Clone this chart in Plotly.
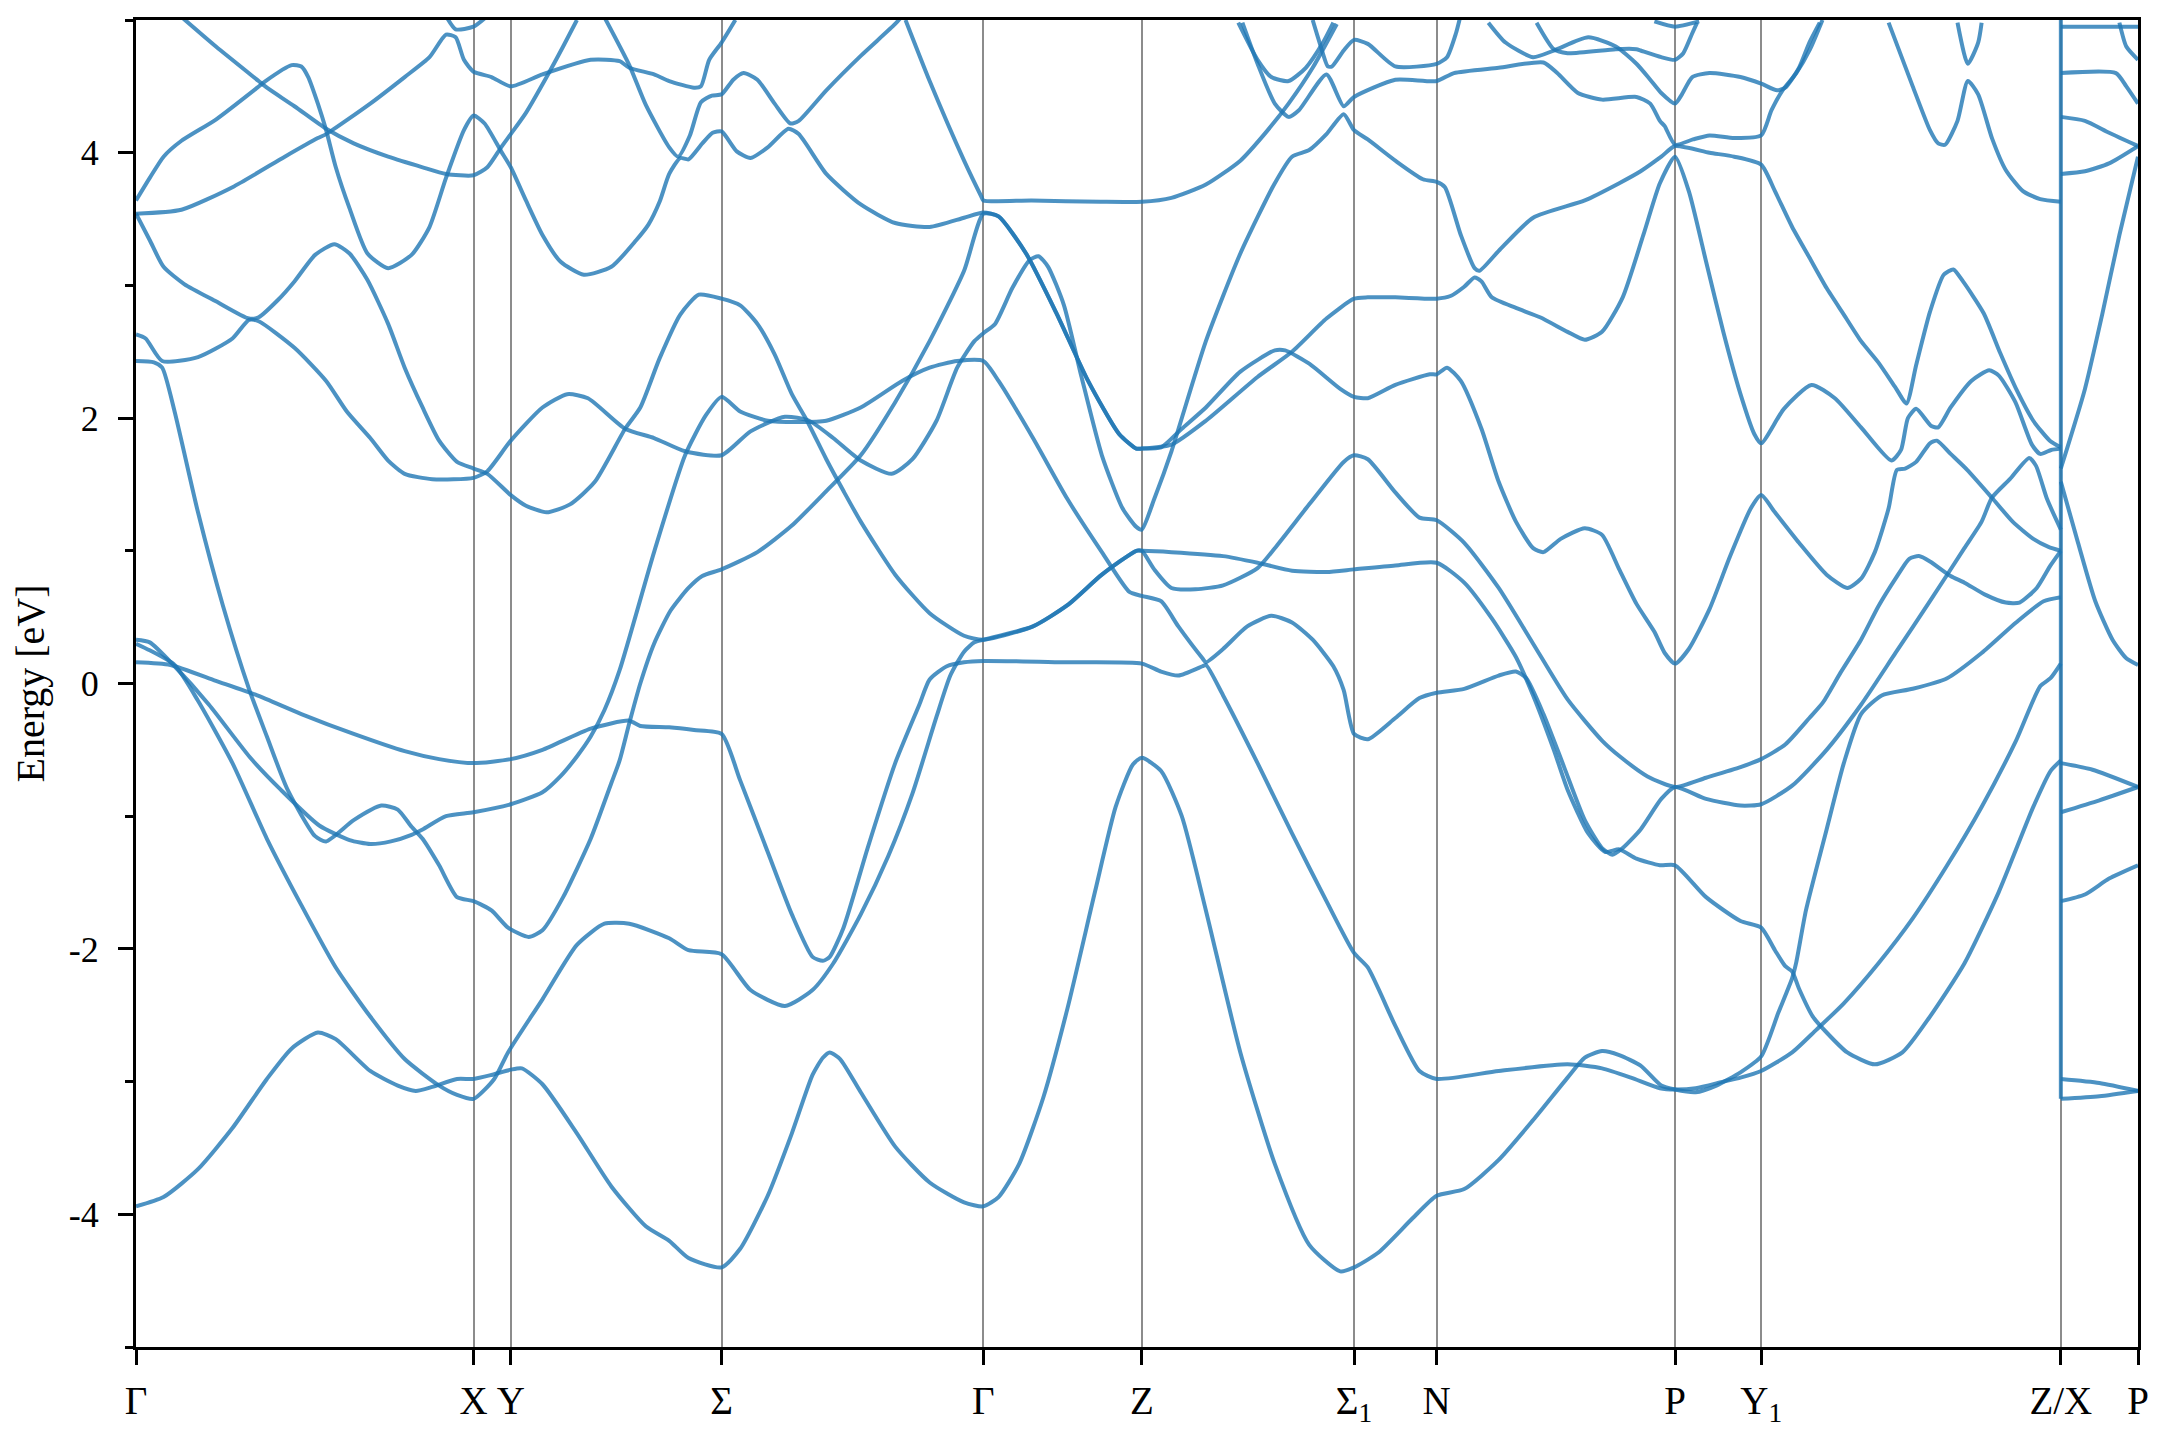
import plotly.graph_objects as go

# ---------------- high-symmetry path ----------------
K_TICKS = [0, 2.45, 2.72, 4.25, 6.15, 7.30, 8.84, 9.44, 11.17, 11.795, 13.97, 14.53]
K_LABELS = ["Γ", "X", "Y", "Σ", "Γ", "Z", "Σ<sub>1</sub>", "N", "P", "Y<sub>1</sub>", "Z/X", "P"]
K_ZX = 13.97
Y_TICKS = [-4, -2, 0, 2, 4]
Y_TICK_TEXT = ["-4", "-2", "0", "2", "4"]
Y_MINOR = [-5, -3, -1, 1, 3, 5]
E_MIN, E_MAX = -5, 5

# ---------------- bands (k, energy in eV) ----------------
A_K = [0, 0.10, 0.20, 0.33, 0.58, 0.88, 0.94, 1.13, 1.20, 1.25,
       1.32, 1.38, 1.45, 1.55, 1.68, 1.83, 2.00, 2.13, 2.25, 2.38,
       2.45, 2.53, 2.65, 2.72, 2.83, 2.95, 3.08, 3.25, 3.45, 3.63,
       3.72, 3.80, 3.87, 3.95, 4.01, 4.11, 4.185, 4.25, 4.36, 4.46,
       4.585, 4.735, 4.81, 5.01, 5.26, 5.51, 5.76, 6.01, 6.15,
       6.26, 6.46, 6.685, 6.91, 7.135, 7.26, 7.30,
       7.44, 7.59, 7.765, 8.015, 8.265, 8.34, 8.515, 8.74, 8.84, 8.94, 9.14, 9.39, 9.44,
       9.515, 9.615, 9.765, 9.89, 10.015, 10.14, 10.215, 10.34, 10.515, 10.64, 10.765, 10.89, 11.02, 11.095, 11.17,
       11.27, 11.42, 11.57, 11.72, 11.795, 11.895, 12.07, 12.27, 12.42, 12.52, 12.62, 12.72, 12.78, 12.84, 12.92, 13.02, 13.07,
       13.17, 13.29, 13.47, 13.62, 13.77, 13.88, 13.97]
A_E = [3.64, 3.81, 3.97, 4.09, 4.25, 4.49, 4.54, 4.66, 4.65, 4.57,
       4.37, 4.17, 3.89, 3.58, 3.24, 3.13, 3.23, 3.44, 3.81, 4.17,
       4.28, 4.22, 4.01, 3.89, 3.64, 3.38, 3.18, 3.08, 3.14, 3.34,
       3.46, 3.63, 3.84, 3.96, 3.95, 4.07, 4.15, 4.16, 4.01, 3.96,
       4.04, 4.18, 4.14, 3.84, 3.61, 3.47, 3.44, 3.51, 3.55,
       3.52, 3.24, 2.78, 2.28, 1.88, 1.77, 1.77,
       1.78, 1.92, 2.08, 2.35, 2.51, 2.51, 2.41, 2.22, 2.16, 2.15, 2.25, 2.33, 2.33,
       2.38, 2.28, 1.92, 1.52, 1.22, 1.02, 0.99, 1.09, 1.17, 1.12, 0.86, 0.60, 0.39, 0.23, 0.15,
       0.26, 0.56, 0.96, 1.32, 1.42, 1.29, 1.06, 0.82, 0.72, 0.79, 0.99, 1.32, 1.61, 1.62, 1.67, 1.81, 1.83,
       1.73, 1.61, 1.40, 1.22, 1.09, 1.03, 1.00]

B_K = [0.30, 0.58, 0.89, 0.95, 1.15, 1.38, 1.58, 1.83, 2.08, 2.25, 2.45, 2.55, 2.65, 2.72, 2.83, 2.98, 3.10, 3.20]
B_E = [5.05, 4.80, 4.54, 4.49, 4.35, 4.18, 4.07, 3.97, 3.89, 3.84, 3.83, 3.89, 4.04, 4.14, 4.30, 4.57, 4.80, 5.0]

C_K = [0, 0.33, 0.70, 1.08, 1.32, 1.38, 1.70, 1.95, 2.13, 2.25, 2.32, 2.38, 2.45, 2.58, 2.72,
       2.95, 3.30, 3.51, 3.58, 3.76, 3.87, 4.05, 4.10, 4.16, 4.25, 4.35]
C_E = [3.54, 3.57, 3.74, 3.97, 4.11, 4.14, 4.37, 4.57, 4.72, 4.89, 4.87, 4.70, 4.61, 4.57, 4.50,
       4.59, 4.70, 4.69, 4.64, 4.59, 4.54, 4.49, 4.50, 4.70, 4.83, 5.0]

D_K = [2.25, 2.32, 2.45, 2.55]
D_E = [5.03, 4.93, 4.95, 5.03]

E5_K = [3.40, 3.58, 3.70, 3.87, 3.935, 4.02, 4.10, 4.18, 4.25, 4.335, 4.41, 4.51, 4.635, 4.75, 4.81, 5.01, 5.26, 5.51, 5.56]
E5_E = [5.02, 4.66, 4.36, 4.04, 3.97, 4.13, 4.38, 4.43, 4.44, 4.55, 4.60, 4.55, 4.37, 4.22, 4.24, 4.47, 4.73, 4.97, 5.03]

F_K = [0, 0.07, 0.19, 0.45, 0.70, 0.82, 0.89, 1.15, 1.38, 1.53,
       1.70, 1.83, 1.95, 2.15, 2.45, 2.55, 2.72, 2.95, 3.13, 3.28,
       3.55, 3.76, 3.985, 4.25, 4.46, 4.71, 4.885, 5.06, 5.26, 5.485,
       5.635, 5.81, 5.96, 6.085, 6.15, 6.235, 6.36, 6.485, 6.55, 6.62,
       6.735, 6.86, 7.01, 7.16, 7.26, 7.30, 7.39, 7.515, 7.765, 8.015,
       8.265, 8.39, 8.515, 8.64, 8.765, 8.84, 8.94, 9.14, 9.34, 9.44,
       9.50, 9.615, 9.715, 9.75, 9.89, 10.14, 10.515, 10.765, 10.92, 11.07,
       11.17, 11.42, 11.60, 11.795, 11.895, 12.02, 12.145, 12.27, 12.395, 12.52,
       12.645, 12.77, 12.85, 12.92, 13.02, 13.12, 13.19, 13.26, 13.41, 13.53,
       13.65, 13.77, 13.89, 13.97]
F_E = [2.63, 2.60, 2.43, 2.46, 2.60, 2.74, 2.73, 2.53, 2.28, 2.05,
       1.85, 1.68, 1.58, 1.54, 1.55, 1.60, 1.83, 2.08, 2.18, 2.15,
       1.92, 1.85, 1.75, 1.72, 1.90, 2.01, 1.98, 1.85, 1.68, 1.58,
       1.69, 1.98, 2.38, 2.58, 2.64, 2.71, 2.98, 3.19, 3.22, 3.14,
       2.85, 2.32, 1.72, 1.32, 1.18, 1.16, 1.39, 1.75, 2.58, 3.24,
       3.77, 3.97, 4.02, 4.14, 4.29, 4.17, 4.10, 3.94, 3.80, 3.78,
       3.74, 3.38, 3.13, 3.11, 3.26, 3.51, 3.64, 3.77, 3.86, 3.97,
       4.05, 4.00, 3.97, 3.91, 3.71, 3.44, 3.21, 2.98, 2.78, 2.58,
       2.42, 2.23, 2.11, 2.40, 2.80, 3.08, 3.12, 3.03, 2.79, 2.49,
       2.21, 1.98, 1.83, 1.78]

G_K = [0, 0.10, 0.20, 0.35, 0.58, 0.82, 0.89, 1.03, 1.15, 1.30,
       1.44, 1.55, 1.68, 1.83, 1.95, 2.08, 2.20, 2.33, 2.45, 2.55,
       2.72, 2.83, 2.98, 3.15, 3.33, 3.55, 3.66, 3.80, 3.95, 4.085,
       4.25, 4.385, 4.51, 4.635, 4.76, 4.87, 5.01, 5.135, 5.26, 5.51,
       5.76, 6.01, 6.15, 6.51, 6.76, 7.01, 7.26, 7.30, 7.515, 7.89,
       8.14, 8.39, 8.64, 8.84, 9.14, 9.44, 9.64, 9.84, 10.015, 10.14,
       10.29, 10.39, 10.54, 10.665, 10.765, 10.89, 11.06, 11.17, 11.395, 11.645,
       11.795, 11.895, 11.97, 12.02, 12.07, 12.17, 12.27, 12.42, 12.62, 12.82,
       13.02, 13.27, 13.52, 13.77, 13.895, 13.97]
G_E = [3.54, 3.34, 3.14, 3.01, 2.88, 2.75, 2.76, 2.89, 3.03, 3.23,
       3.31, 3.24, 3.04, 2.71, 2.38, 2.08, 1.83, 1.67, 1.62, 1.58,
       1.42, 1.34, 1.29, 1.35, 1.52, 1.92, 2.08, 2.45, 2.78, 2.93,
       2.90, 2.85, 2.71, 2.48, 2.18, 1.98, 1.69, 1.45, 1.22, 0.82,
       0.53, 0.36, 0.33, 0.43, 0.59, 0.82, 1.00, 1.00, 0.99, 0.96,
       0.91, 0.85, 0.84, 0.86, 0.89, 0.91, 0.76, 0.49, 0.20, -0.09,
       -0.50, -0.80, -1.13, -1.27, -1.25, -1.32, -1.37, -1.37, -1.61, -1.79,
       -1.84, -2.01, -2.13, -2.17, -2.30, -2.51, -2.63, -2.78, -2.87, -2.78,
       -2.51, -2.11, -1.57, -0.93, -0.66, -0.58]

H_K = [0, 0.13, 0.19, 0.28, 0.45, 0.63, 0.82, 0.95, 1.10, 1.30,
       1.38, 1.58, 1.78, 1.90, 2.00, 2.08, 2.20, 2.33, 2.45,
       2.58, 2.70, 2.85, 2.95, 3.10, 3.30, 3.45, 3.51, 3.58, 3.66, 3.76, 3.88, 4.01, 4.11, 4.25,
       4.51, 4.76, 5.01, 5.26, 5.51, 5.76, 6.01, 6.15,
       6.26, 6.46, 6.685, 6.91, 7.135, 7.26, 7.30,
       7.515, 7.765, 8.14, 8.39, 8.64, 8.84, 8.94, 9.14, 9.44,
       9.54, 9.64, 9.715, 9.765, 9.84, 10.015, 10.19, 10.39, 10.515, 10.64, 10.79, 10.94, 11.06, 11.17,
       11.27, 11.395, 11.52, 11.645, 11.745, 11.795,
       11.96, 12.16, 12.33, 12.52, 12.74, 12.81, 12.86, 12.92, 13.03, 13.08, 13.17, 13.32, 13.45, 13.52,
       13.64, 13.76, 13.82, 13.90, 13.97]
H_E = [2.43, 2.42, 2.38, 2.05, 1.29, 0.59, -0.04, -0.40, -0.80, -1.15,
       -1.19, -1.03, -0.92, -0.95, -1.08, -1.17, -1.37, -1.61, -1.64,
       -1.71, -1.84, -1.91, -1.86, -1.61, -1.17, -0.75, -0.58, -0.30, 0.0, 0.30, 0.55, 0.72, 0.81, 0.86,
       0.99, 1.19, 1.45, 1.72, 2.12, 2.58, 3.11, 3.54,
       3.52, 3.24, 2.78, 2.28, 1.88, 1.77, 1.77,
       1.80, 1.98, 2.31, 2.50, 2.75, 2.90, 2.91, 2.91, 2.90,
       2.92, 2.99, 3.06, 3.03, 2.91, 2.83, 2.76, 2.65, 2.59, 2.65, 2.91, 3.38, 3.77, 3.97,
       3.71, 3.18, 2.65, 2.18, 1.88, 1.81,
       2.07, 2.25, 2.15, 1.93, 1.68, 1.76, 2.00, 2.07, 1.94, 1.93, 2.08, 2.28, 2.36, 2.32,
       2.12, 1.80, 1.73, 1.76, 1.77]

I_K = [0, 0.10, 0.28, 0.53, 0.83, 1.05, 1.33, 1.55, 1.70, 1.85, 2.00, 2.08, 2.25, 2.45,
       2.72, 2.95, 3.08, 3.20, 3.30, 3.40, 3.51, 3.76, 3.985, 4.135, 4.25,
       4.385, 4.585, 4.81, 5.01, 5.26, 5.56, 5.76, 5.96, 6.15,
       6.26, 6.51, 6.76, 7.01, 7.21, 7.30,
       7.44, 7.565, 7.74, 7.765, 7.89, 8.065, 8.24, 8.39, 8.54, 8.69, 8.765, 8.84,
       8.94, 9.14, 9.315, 9.44, 9.64, 9.89, 10.015, 10.09, 10.215, 10.365, 10.515, 10.64, 10.715, 10.79, 10.92, 11.07, 11.17,
       11.395, 11.645, 11.795, 12.02, 12.27, 12.52, 12.77, 13.02, 13.27, 13.395, 13.47, 13.60, 13.74, 13.79, 13.87, 13.97]
I_E = [0.33, 0.31, 0.13, -0.16, -0.56, -0.80, -1.07, -1.18, -1.21, -1.19, -1.14, -1.10, -1.0, -0.97,
       -0.91, -0.82, -0.70, -0.55, -0.40, -0.20, 0.10, 0.99, 1.72, 2.02, 2.16,
       2.05, 1.98, 1.97, 1.98, 2.08, 2.28, 2.38, 2.43, 2.43,
       2.28, 1.85, 1.39, 0.99, 0.69, 0.66,
       0.62, 0.43, 0.19, 0.16, 0.26, 0.43, 0.51, 0.46, 0.33, 0.13, -0.05, -0.38,
       -0.42, -0.26, -0.11, -0.07, -0.04, 0.06, 0.09, 0.04, -0.23, -0.63, -1.03, -1.24, -1.29, -1.24, -1.10, -0.87, -0.78,
       -0.87, -0.92, -0.91, -0.77, -0.50, -0.16, 0.23, 0.62, 1.02, 1.22, 1.40, 1.54, 1.70, 1.64, 1.39, 1.16]

J_K = [0, 0.25, 0.58, 0.88, 1.20, 1.58, 1.95, 2.20, 2.45, 2.72, 2.95, 3.30, 3.58, 3.66, 3.87, 4.05, 4.25,
       4.385, 4.585, 4.76, 4.91, 4.985, 5.035, 5.135, 5.31, 5.51, 5.685, 5.76, 5.885, 6.01, 6.15,
       6.76, 7.30, 7.44, 7.565, 7.74, 7.765,
       7.89, 8.14, 8.39, 8.64, 8.84, 8.94, 9.14, 9.315, 9.44, 9.89, 10.39, 10.64, 10.85, 11.06, 11.17,
       11.32, 11.52, 11.645, 11.795, 12.02, 12.195, 12.395, 12.645, 12.895, 13.145, 13.395, 13.645, 13.82, 13.895, 13.97]
J_E = [0.16, 0.14, 0.02, -0.09, -0.23, -0.38, -0.51, -0.57, -0.60, -0.57, -0.50, -0.34, -0.28, -0.32, -0.33, -0.35, -0.38,
       -0.73, -1.27, -1.74, -2.06, -2.09, -2.06, -1.84, -1.24, -0.60, -0.16, 0.03, 0.13, 0.16, 0.17,
       0.16, 0.15, 0.09, 0.06, 0.13, 0.14,
       -0.09, -0.60, -1.13, -1.64, -2.03, -2.14, -2.58, -2.92, -2.98, -2.92, -2.87, -2.90, -2.97, -3.05, -3.06,
       -3.05, -3.00, -2.97, -2.92, -2.78, -2.61, -2.41, -2.11, -1.77, -1.37, -0.93, -0.43, -0.02, 0.04, 0.15]

K_K = [0, 0.20, 0.45, 0.70, 0.95, 1.13, 1.32, 1.45, 1.70, 1.90, 2.03, 2.15, 2.33, 2.45, 2.58, 2.72, 2.80, 2.95,
       3.20, 3.45, 3.70, 3.87, 4.01, 4.25,
       4.385, 4.585, 4.76, 4.91, 4.985, 5.035, 5.11, 5.26, 5.51, 5.76, 6.01, 6.15,
       6.26, 6.41, 6.585, 6.76, 6.96, 7.11, 7.235, 7.30,
       7.44, 7.59, 7.765, 8.015, 8.265, 8.515, 8.74, 8.84, 9.015, 9.265, 9.44,
       9.64, 9.89, 10.14, 10.39, 10.515, 10.64, 10.765, 10.92, 11.07, 11.17,
       11.32, 11.47, 11.645, 11.795,
       11.92, 12.02, 12.05, 12.12, 12.27, 12.395, 12.52, 12.67, 12.895, 13.145, 13.395, 13.645, 13.845, 13.97]
K_E = [-3.94, -3.87, -3.66, -3.35, -2.98, -2.75, -2.63, -2.68, -2.92, -3.03, -3.07, -3.04, -2.98, -2.98, -2.95, -2.91, -2.90, -3.02,
       -3.39, -3.79, -4.09, -4.20, -4.33, -4.40,
       -4.26, -3.86, -3.39, -2.95, -2.82, -2.78, -2.83, -3.08, -3.49, -3.76, -3.91, -3.94,
       -3.87, -3.62, -3.12, -2.45, -1.57, -0.93, -0.61, -0.56,
       -0.66, -1.0, -1.71, -2.78, -3.62, -4.23, -4.43, -4.40, -4.29, -4.03, -3.86,
       -3.81, -3.59, -3.29, -2.97, -2.82, -2.77, -2.80, -2.88, -3.03, -3.06,
       -3.08, -3.03, -2.93, -2.81,
       -2.48, -2.22, -2.10, -1.71, -1.10, -0.60, -0.23, -0.09, -0.04, 0.04, 0.23, 0.46, 0.62, 0.65]

L_K = [0, 0.10, 0.28, 0.45, 0.70, 0.95, 1.20, 1.45, 1.70, 1.95, 2.20, 2.33, 2.45,
       2.60, 2.70, 2.95, 3.20, 3.40, 3.58, 3.87, 4.01, 4.25,
       4.46, 4.71, 4.91, 5.06, 5.26, 5.46, 5.635, 5.81, 5.91, 6.01, 6.085, 6.15,
       6.51, 6.76, 7.01, 7.26, 7.30,
       7.39, 7.515, 7.69, 7.89, 8.14, 8.265, 8.515, 8.765, 8.84, 8.94, 9.14, 9.315, 9.44,
       9.64, 9.89, 10.14, 10.39, 10.64, 10.77, 10.97, 11.17,
       11.395, 11.645, 11.795, 11.97, 12.145, 12.245, 12.37, 12.52, 12.645, 12.77,
       12.87, 12.94, 13.02, 13.17, 13.27, 13.42, 13.57, 13.67, 13.795, 13.895, 13.97]
L_E = [0.30, 0.25, 0.14, -0.13, -0.60, -1.17, -1.67, -2.14, -2.51, -2.83, -3.03, -3.10, -3.13,
       -2.98, -2.78, -2.38, -1.97, -1.81, -1.81, -1.92, -2.01, -2.04,
       -2.31, -2.43, -2.31, -2.11, -1.74, -1.30, -0.83, -0.25, 0.06, 0.24, 0.31, 0.33,
       0.43, 0.59, 0.82, 1.0, 1.0,
       0.86, 0.72, 0.71, 0.74, 0.87, 1.02, 1.35, 1.67, 1.72, 1.69, 1.44, 1.25, 1.23,
       1.06, 0.72, 0.30, -0.12, -0.43, -0.55, -0.70, -0.78,
       -0.71, -0.63, -0.57, -0.46, -0.26, -0.14, 0.08, 0.33, 0.58, 0.79,
       0.94, 0.96, 0.92, 0.81, 0.76, 0.67, 0.61, 0.61, 0.72, 0.89, 1.0]

M_K = [5.585, 5.76, 6.01, 6.135, 6.15, 6.5, 7.0, 7.30, 7.515, 7.765, 8.015, 8.19, 8.365, 8.54, 8.715]
M_E = [5.0, 4.54, 3.94, 3.67, 3.64, 3.64, 3.63, 3.63, 3.66, 3.76, 3.94, 4.14, 4.37, 4.64, 4.97]

N1_K = [8.0, 8.14, 8.24, 8.365, 8.49, 8.615, 8.69]
N1_E = [4.98, 4.70, 4.57, 4.54, 4.64, 4.83, 4.98]

N2_K = [8.03, 8.14, 8.265, 8.365, 8.44, 8.64, 8.765, 8.84, 9.14, 9.44,
        9.565, 9.89, 10.215, 10.315, 10.465, 10.64, 10.89, 10.99, 11.06, 11.095,
        11.17, 11.30, 11.42, 11.60, 11.795, 11.87, 11.95, 12.05, 12.15, 12.24]
N2_E = [4.98, 4.67, 4.37, 4.27, 4.32, 4.59, 4.35, 4.42, 4.55, 4.54,
        4.60, 4.64, 4.68, 4.60, 4.45, 4.40, 4.42, 4.37, 4.24, 4.20,
        4.06, 4.10, 4.13, 4.11, 4.13, 4.32, 4.47, 4.60, 4.78, 5.0]

N3_K = [8.54, 8.59, 8.65, 8.68, 8.765, 8.84, 8.94, 9.14, 9.44, 9.515, 9.58, 9.61]
N3_E = [5.0, 4.83, 4.65, 4.65, 4.77, 4.85, 4.82, 4.65, 4.67, 4.72, 4.90, 5.02]

N4_K = [9.815, 9.94, 10.14, 10.29, 10.54, 10.74, 10.89, 10.99, 11.07, 11.17,
        11.22, 11.295, 11.42, 11.645, 11.795, 11.91, 11.97, 12.07, 12.145, 12.22]
N4_E = [4.98, 4.83, 4.72, 4.77, 4.87, 4.80, 4.67, 4.55, 4.45, 4.37,
        4.44, 4.57, 4.60, 4.57, 4.52, 4.47, 4.49, 4.64, 4.83, 4.98]

N5_K = [10.165, 10.29, 10.39, 10.74, 10.89, 10.92, 11.07, 11.17, 11.23, 11.295, 11.33]
N5_E = [4.98, 4.78, 4.75, 4.78, 4.78, 4.77, 4.72, 4.70, 4.75, 4.90, 4.98]

N6_K = [11.02, 11.17, 11.345]
N6_E = [4.99, 4.95, 4.99]

Q1_K = [12.72, 12.895, 13.02, 13.08, 13.13, 13.22, 13.295, 13.37, 13.47, 13.57, 13.695, 13.82, 13.97]
Q1_E = [4.98, 4.50, 4.17, 4.07, 4.06, 4.24, 4.54, 4.44, 4.11, 3.87, 3.71, 3.65, 3.63]

Q2_K = [13.22, 13.295, 13.37, 13.395]
Q2_E = [4.98, 4.67, 4.83, 4.98]

# X -> P segment (after the Z/X break)
R01_K = [13.97, 14.2, 14.53];               R01_E = [4.95, 4.95, 4.95]
R02_K = [13.97, 14.37, 14.445, 14.53];      R02_E = [4.60, 4.60, 4.50, 4.37]
R03_K = [14.395, 14.445, 14.53];            R03_E = [4.98, 4.80, 4.70]
R04_K = [13.97, 14.145, 14.32, 14.53];      R04_E = [4.27, 4.24, 4.15, 4.05]
R05_K = [13.97, 14.145, 14.32, 14.53];      R05_E = [3.84, 3.86, 3.92, 4.05]
R06_K = [13.97, 14.145, 14.27, 14.395, 14.53]; R06_E = [1.62, 2.22, 2.78, 3.38, 3.97]
R07_K = [13.97, 14.095, 14.22, 14.345, 14.445, 14.53]; R07_E = [1.52, 1.06, 0.62, 0.33, 0.19, 0.14]
R08_K = [13.97, 14.2, 14.53];               R08_E = [-0.60, -0.65, -0.78]
R09_K = [13.97, 14.25, 14.53];              R09_E = [-0.97, -0.88, -0.78]
R10_K = [13.97, 14.145, 14.32, 14.53];      R10_E = [-1.64, -1.59, -1.47, -1.37]
R11_K = [13.97, 14.25, 14.53];              R11_E = [-2.98, -3.01, -3.07]
R12_K = [13.97, 14.25, 14.53];              R12_E = [-3.13, -3.11, -3.07]

CURVES = [(A_K, A_E), (B_K, B_E), (C_K, C_E), (D_K, D_E), (E5_K, E5_E), (F_K, F_E),
          (G_K, G_E), (H_K, H_E), (I_K, I_E), (J_K, J_E), (K_K, K_E), (L_K, L_E),
          (M_K, M_E), (N1_K, N1_E), (N2_K, N2_E), (N3_K, N3_E), (N4_K, N4_E),
          (N5_K, N5_E), (N6_K, N6_E), (Q1_K, Q1_E), (Q2_K, Q2_E)]
X_SIDE = [(R01_K, R01_E), (R02_K, R02_E), (R03_K, R03_E), (R04_K, R04_E), (R05_K, R05_E),
          (R06_K, R06_E), (R07_K, R07_E), (R08_K, R08_E), (R09_K, R09_E), (R10_K, R10_E),
          (R11_K, R11_E), (R12_K, R12_E)]

BAND_COLOR = "rgba(31,119,180,0.8)"
BAND_WIDTH = 4
FONT = "Liberation Serif, Times New Roman, serif"

fig = go.Figure()
for ks, es in CURVES + X_SIDE:
    n = min(len(ks), len(es))
    if len(ks) != len(es):
        print("length mismatch", len(ks), len(es))
    fig.add_trace(go.Scatter(x=ks[:n], y=es[:n], mode="lines",
                             line=dict(color=BAND_COLOR, width=BAND_WIDTH, shape="spline", smoothing=0.6),
                             hoverinfo="skip", showlegend=False))

# vertical jump of the bands at the Z/X discontinuity
x_start = [es[0] for ks, es in X_SIDE if ks[0] == K_ZX]
fig.add_trace(go.Scatter(x=[K_ZX, K_ZX], y=[min(x_start), E_MAX + 0.2], mode="lines",
                         line=dict(color=BAND_COLOR, width=BAND_WIDTH),
                         hoverinfo="skip", showlegend=False))

# the page body has an 8 px margin: size the figure so the plot lands where the reference has it
fig.update_layout(
    width=2152, height=1432,
    margin=dict(l=128, r=22, t=12, b=93, autoexpand=False),
    paper_bgcolor="white", plot_bgcolor="white",
    font=dict(family=FONT, size=38, color="black"),
    showlegend=False,
)
fig.update_xaxes(
    range=[K_TICKS[0], K_TICKS[-1]],
    tickmode="array", tickvals=K_TICKS, ticktext=K_LABELS,
    ticks="outside", ticklen=15, tickwidth=2.5, tickcolor="black",
    ticklabelstandoff=2, automargin=False,
    showline=True, linewidth=3, linecolor="black", mirror=True,
    showgrid=True, gridcolor="rgba(0,0,0,0.45)", gridwidth=2,
    zeroline=False, tickfont=dict(family=FONT, size=39, color="black"),
)
fig.update_yaxes(
    range=[E_MIN, E_MAX],
    tickmode="array", tickvals=Y_TICKS, ticktext=Y_TICK_TEXT,
    ticks="outside", ticklen=15, tickwidth=2.5, tickcolor="black",
    ticklabelstandoff=12, automargin=False,
    minor=dict(tickvals=Y_MINOR, ticks="outside", ticklen=8, tickwidth=2.5, tickcolor="black", showgrid=False),
    showline=True, linewidth=3, linecolor="black", mirror=True,
    showgrid=False, zeroline=False,
    tickfont=dict(family=FONT, size=36, color="black"),
    title=dict(text="Energy [eV]", font=dict(family=FONT, size=40, color="black"), standoff=26),
)

fig.write_html("out.html")
